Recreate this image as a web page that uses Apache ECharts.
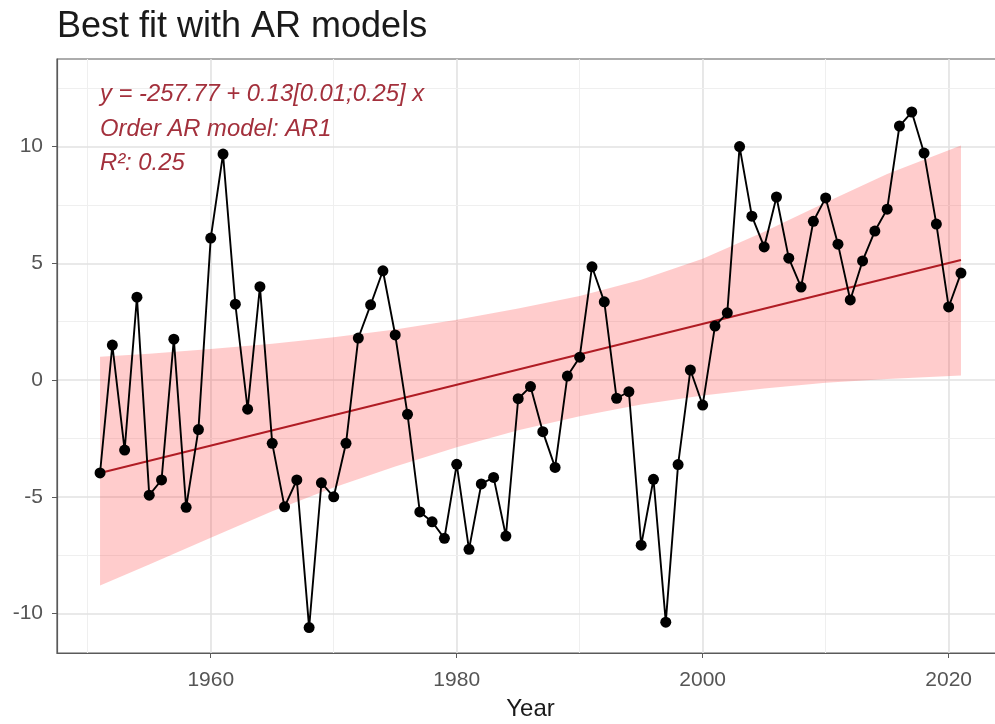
<!DOCTYPE html>
<html>
<head>
<meta charset="utf-8">
<script src="https://cdn.jsdelivr.net/npm/echarts@6/dist/echarts.min.js"></script>
<style>
html,body{margin:0;padding:0;background:#fff;}
#chart{width:995px;height:724px;}
</style>
</head>
<body>
<div id="chart"></div>
<script>
// ---- data ----
const years = [1951,1952,1953,1954,1955,1956,1957,1958,1959,1960,
  1961,1962,1963,1964,1965,1966,1967,1968,1969,1970,
  1971,1972,1973,1974,1975,1976,1977,1978,1979,1980,
  1981,1982,1983,1984,1985,1986,1987,1988,1989,1990,
  1991,1992,1993,1994,1995,1996,1997,1998,1999,2000,
  2001,2002,2003,2004,2005,2006,2007,2008,2009,2010,
  2011,2012,2013,2014,2015,2016,2017,2018,2019,2020,2021];
const values = [-3.98,1.5,-3.0,3.55,-4.93,-4.28,1.75,-5.45,-2.12,6.08,
  9.68,3.25,-1.25,4.0,-2.71,-5.43,-4.28,-10.6,-4.4,-5.0,
  -2.71,1.8,3.22,4.68,1.93,-1.47,-5.65,-6.07,-6.78,-3.61,
  -7.25,-4.45,-4.17,-6.68,-0.8,-0.28,-2.21,-3.74,0.17,0.98,
  4.85,3.35,-0.78,-0.5,-7.07,-4.25,-10.37,-3.62,0.43,-1.07,
  2.31,2.88,10.0,7.02,5.7,7.84,5.22,3.98,6.8,7.8,
  5.82,3.43,5.1,6.38,7.32,10.88,11.48,9.72,6.68,3.13,4.58];
const fitYears = [1951, 2021];
const fitValues = [-3.98, 5.14];
const bandYears = [1951,1955,1960,1965,1970,1975,1980,1985,1990,1995,2000,2005,2010,2015,2021];
const bandUpper = [1.0,1.13,1.33,1.56,1.83,2.16,2.58,3.06,3.6,4.3,5.2,6.35,7.6,8.82,10.05];
const bandLower = [-8.8,-7.9,-6.75,-5.62,-4.6,-3.7,-2.88,-2.15,-1.55,-1.05,-0.66,-0.36,-0.12,0.04,0.2];
const xTicks = [1960,1980,2000,2020];
const xMinor = [1950,1970,1990,2010];
const yTicks = [-10,-5,0,5,10];
const yMinor = [-7.5,-2.5,2.5,7.5,12.5];
const titleText = 'Best fit with AR models';
const annotation = ['y = -257.77 + 0.13[0.01;0.25] x', 'Order AR model: AR1', 'R\u00b2: 0.25'];

// ---- chart ----
const chart = echarts.init(document.getElementById('chart'), null, {renderer:'canvas'});
const FONT = '"Liberation Sans", Arial, sans-serif';

const gridLines = [];
xTicks.forEach(v => gridLines.push({xAxis: v, lineStyle:{color:'#e2e2e2', width:1.6, type:'solid'}}));
xMinor.forEach(v => gridLines.push({xAxis: v, lineStyle:{color:'#efefef', width:1.1, type:'solid'}}));
yTicks.forEach(v => gridLines.push({yAxis: v, lineStyle:{color:'#e2e2e2', width:1.6, type:'solid'}}));
yMinor.forEach(v => gridLines.push({yAxis: v, lineStyle:{color:'#efefef', width:1.1, type:'solid'}}));

const bandData = bandYears.map((y, i) => [y, bandLower[i], bandUpper[i]]);

const option = {
  animation: false,
  backgroundColor: '#ffffff',
  title: {
    text: titleText,
    left: 57, top: 9, padding: 0,
    textStyle: {fontFamily: FONT, fontSize: 36, fontWeight: 'normal', color: '#1a1a1a'}
  },
  grid: {
    left: 57, top: 59, width: 947, height: 594,
    containLabel: false, outerBoundsMode: 'none',
    show: true, borderColor: '#5a5a5a', borderWidth: 1.2, backgroundColor: '#fff'
  },
  xAxis: {
    type: 'value', min: 1947.5, max: 2024.5,
    name: 'Year', nameLocation: 'middle', nameGap: 44,
    nameTextStyle: {fontFamily: FONT, fontSize: 24, color: '#1a1a1a'},
    axisLine: {show: true, onZero: false, lineStyle: {color: '#5a5a5a', width: 1.2}},
    axisTick: {show: true, length: 5, customValues: xTicks, lineStyle: {color: '#5a5a5a'}},
    axisLabel: {customValues: xTicks, formatter: v => String(v), fontFamily: FONT, fontSize: 21, color: '#555', margin: 17},
    splitLine: {show: false}
  },
  yAxis: {
    type: 'value', min: -11.69, max: 13.75,
    axisLine: {show: true, onZero: false, lineStyle: {color: '#5a5a5a', width: 1.2}},
    axisTick: {show: true, length: 5, customValues: yTicks, lineStyle: {color: '#5a5a5a'}},
    axisLabel: {customValues: yTicks, formatter: v => String(v), fontFamily: FONT, fontSize: 21, color: '#555', margin: 14},
    splitLine: {show: false}
  },
  graphic: annotation.map((t, i) => ({
    type: 'text', left: 100, top: [82, 117, 151][i], z: 100,
    style: {text: t, fontFamily: FONT, fontSize: 23.8, fontStyle: 'italic', fill: '#a3303c'}
  })),
  series: [
    {
      name: 'band', type: 'custom', silent: true, z: 2,
      data: bandData,
      encode: {x: 0, y: [1, 2]},
      renderItem: function (params, api) {
        if (params.dataIndex !== 0) return null;
        const up = bandData.map(d => api.coord([d[0], d[2]]));
        const lo = bandData.map(d => api.coord([d[0], d[1]])).reverse();
        return {
          type: 'polygon',
          shape: {points: up.concat(lo)},
          style: {fill: 'rgba(255,40,40,0.24)', stroke: 'none'}
        };
      },
      markLine: {silent: true, symbol: 'none', label: {show: false}, animation: false, z: 0, data: gridLines}
    },
    {
      name: 'fit', type: 'line', symbol: 'none', z: 3,
      data: fitYears.map((y, i) => [y, fitValues[i]]),
      lineStyle: {color: '#b01c24', width: 2}
    },
    {
      name: 'obs', type: 'line', z: 4,
      data: years.map((y, i) => [y, values[i]]),
      symbol: 'circle', symbolSize: 11,
      itemStyle: {color: '#000'},
      lineStyle: {color: '#000', width: 1.9}
    }
  ]
};
chart.setOption(option);
</script>
</body>
</html>
